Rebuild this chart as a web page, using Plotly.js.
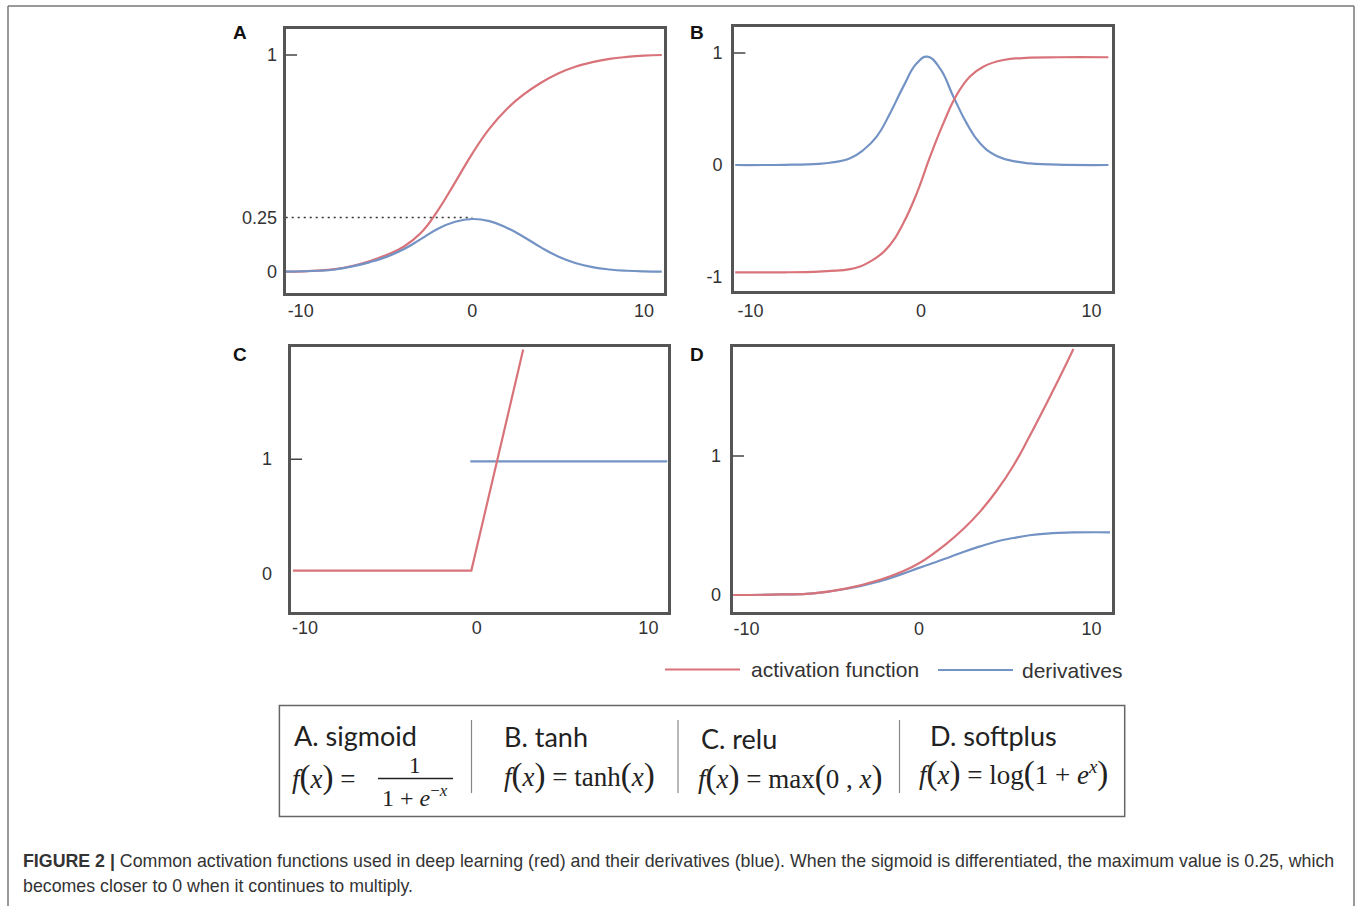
<!DOCTYPE html>
<html><head><meta charset="utf-8">
<script src="https://cdn.plot.ly/plotly-3.0.1.min.js"></script>
<style>html,body{margin:0;padding:0;background:#fff;}#chart{width:1357px;height:906px;}</style>
</head><body><div id="chart"></div>
<script>
// ---------- data ----------
const xTickVals = [-10, 0, 10];
const xTickText = ['-10', '0', '10'];
const yTickValsA = [0, 0.25, 1];
const yTickTextA = ['0', '0.25', '1'];
const yTickValsB = [-1, 0, 1];
const yTickTextB = ['-1', '0', '1'];
const yTickValsC = [0, 1];
const yTickTextC = ['0', '1'];
const yTickValsD = [0, 1];
const yTickTextD = ['0', '1'];

// A. sigmoid
const sigmoidX = [-10.85, -9, -8, -7, -6, -5, -4, -3, -2, -1, 0, 1, 2, 3, 4, 5, 6, 7, 8, 9, 10, 11.04];
const sigmoidY = [0.0, 0.005, 0.012, 0.026, 0.048, 0.077, 0.115, 0.178, 0.283, 0.412, 0.545, 0.66, 0.75, 0.818, 0.872, 0.915, 0.946, 0.967, 0.982, 0.991, 0.997, 1.0];
const sigmoidDerivX = [-10.85, -9, -8, -7, -6, -5, -4, -3, -2, -1, 0, 1, 2, 3, 4, 5, 6, 7, 8, 9, 10, 11.04];
const sigmoidDerivY = [0.0, 0.004, 0.01, 0.024, 0.043, 0.068, 0.103, 0.15, 0.198, 0.23, 0.243, 0.233, 0.203, 0.16, 0.112, 0.07, 0.04, 0.021, 0.01, 0.004, 0.001, 0.0];
const sigmoidMaxDeriv = {x: 0, y: 0.25};

// B. tanh
const tanhX = [-10.9, -8, -6, -5.34, -4.16, -2.99, -1.82, -1.04, -0.25, 0.53, 1.31, 2.09, 2.87, 3.65, 4.83, 6.39, 8, 10.99];
const tanhY = [-0.958, -0.958, -0.952, -0.945, -0.93, -0.863, -0.714, -0.52, -0.253, 0.074, 0.372, 0.625, 0.79, 0.878, 0.9375, 0.958, 0.962, 0.962];
const tanhDerivX = [-10.9, -8, -6, -5.34, -4.16, -3.38, -2.6, -1.82, -1.04, -0.25, 0.37, 1.11, 1.9, 2.68, 3.46, 4.44, 5.61, 6.39, 8, 10.99];
const tanhDerivY = [0, 0.002, 0.01, 0.02, 0.06, 0.134, 0.253, 0.46, 0.70, 0.908, 0.967, 0.863, 0.61, 0.372, 0.194, 0.08, 0.03, 0.015, 0.003, 0];

// C. relu
const reluX = [-10.7, -0.31, 2.71];
const reluY = [0.023, 0.023, 1.96];
const reluDerivX = [-0.37, 11.1];
const reluDerivY = [0.98, 0.98];

// D. softplus
const softplusX = [-10.77, -8, -6.13, -4.19, -2.26, -1, 0, 1.6, 2.57, 3.54, 4.5, 5.47, 6.4, 7.4, 8.37, 8.95];
const softplusY = [0, 0.004, 0.012, 0.048, 0.11, 0.168, 0.228, 0.37, 0.475, 0.6, 0.75, 0.93, 1.14, 1.38, 1.62, 1.77];
const softplusDerivX = [-10.77, -8, -6.13, -4.19, -2.26, -1, 0, 1.6, 2.57, 3.54, 4.5, 5.47, 6.4, 7.4, 8.95, 11.07];
const softplusDerivY = [0, 0.004, 0.012, 0.045, 0.1, 0.15, 0.195, 0.265, 0.31, 0.35, 0.385, 0.41, 0.43, 0.442, 0.45, 0.451];

const panelLetters = ['A', 'B', 'C', 'D'];
const legendNames = ['activation function', 'derivatives'];
const formulaTitles = ['A. sigmoid', 'B. tanh', 'C. relu', 'D. softplus'];
const captionLine1 = '<b>FIGURE 2 |</b> Common activation functions used in deep learning (red) and their derivatives (blue). When the sigmoid is differentiated, the maximum value is 0.25, which';
const captionLine2 = 'becomes closer to 0 when it continues to multiply.';

// ---------- layout helpers ----------
const W = 1357, H = 906;
const px = p => p / W;
const py = p => 1 - p / H;
const RED = '#d9737a';
const BLUE = '#7393c4';
const SANS = 'Liberation Sans, Arial, sans-serif';
const SERIF = 'Liberation Serif, Times New Roman, serif';

function curve(x, y, color, xa, ya, name, shape) {
  return {x: x, y: y, xaxis: xa, yaxis: ya, type: 'scatter', mode: 'lines', name: name,
    showlegend: false, hoverinfo: 'skip',
    line: {color: color, width: 2.2, shape: shape || 'spline', smoothing: 1.3}};
}

const data = [
  curve(sigmoidX, sigmoidY, RED, 'x', 'y', legendNames[0]),
  curve(sigmoidDerivX, sigmoidDerivY, BLUE, 'x', 'y', legendNames[1]),
  curve(tanhDerivX, tanhDerivY, BLUE, 'x2', 'y2', legendNames[1]),
  curve(tanhX, tanhY, RED, 'x2', 'y2', legendNames[0]),
  curve(reluDerivX, reluDerivY, BLUE, 'x3', 'y3', legendNames[1], 'linear'),
  curve(reluX, reluY, RED, 'x3', 'y3', legendNames[0], 'linear'),
  curve(softplusDerivX, softplusDerivY, BLUE, 'x4', 'y4', legendNames[1]),
  curve(softplusX, softplusY, RED, 'x4', 'y4', legendNames[0])
];

function axis(domain, range, vals, text, extra) {
  return Object.assign({
    domain: domain, range: range, tickmode: 'array', tickvals: vals, ticktext: text,
    showgrid: false, zeroline: false, showline: true, mirror: true,
    linecolor: '#555', linewidth: 3, ticks: '', fixedrange: true,
    tickfont: {family: SANS, size: 18, color: '#333'}
  }, extra || {});
}

const rangeA = {x: [-10.87, 11.17], y: [-0.1, 1.12]};
const rangeB = {x: [-10.97, 11.22], y: [-1.125, 1.235]};
const rangeC = {x: [-10.83, 11.16], y: [-0.337, 1.98]};
const rangeD = {x: [-10.8, 11.17], y: [-0.12, 1.786]};

const layout = {
  width: W, height: H, margin: {l: 0, r: 0, t: 0, b: 0},
  paper_bgcolor: '#fff', plot_bgcolor: '#fff', showlegend: false,
  xaxis:  axis([px(285.7), px(664)], rangeA.x, xTickVals, xTickText, {anchor: 'y', ticklabelstandoff: -1}),
  yaxis:  axis([py(293.3), py(29)], rangeA.y, yTickValsA, yTickTextA, {anchor: 'x', ticklabelstandoff: 2}),
  xaxis2: axis([px(734), px(1112.3)], rangeB.x, xTickVals, xTickText, {anchor: 'y2', ticklabelstandoff: 1}),
  yaxis2: axis([py(291), py(26.7)], rangeB.y, yTickValsB, yTickTextB, {anchor: 'x2', ticklabelstandoff: 5}),
  xaxis3: axis([px(290.7), px(668.3)], rangeC.x, xTickVals, xTickText, {anchor: 'y3', ticklabelstandoff: -2}),
  yaxis3: axis([py(611.7), py(347.3)], rangeC.y, yTickValsC, yTickTextC, {anchor: 'x3', ticklabelstandoff: 12}),
  xaxis4: axis([px(732.7), px(1111.7)], rangeD.x, xTickVals, xTickText, {anchor: 'y4', ticklabelstandoff: -1}),
  yaxis4: axis([py(611.7), py(346.7)], rangeD.y, yTickValsD, yTickTextD, {anchor: 'x4', ticklabelstandoff: 5}),
  shapes: [],
  annotations: []
};

// small "1" tick marks inside each frame
[['x domain', 'y'], ['x2 domain', 'y2'], ['x3 domain', 'y3'], ['x4 domain', 'y4']].forEach(r => {
  layout.shapes.push({type: 'line', xref: r[0], yref: r[1], x0: 0, x1: 0.03, y0: 1, y1: 1,
    line: {color: '#444', width: 1.5}});
});
// dotted guide at the sigmoid-derivative maximum
layout.shapes.push({type: 'line', xref: 'x', yref: 'y', x0: rangeA.x[0], x1: sigmoidMaxDeriv.x,
  y0: sigmoidMaxDeriv.y, y1: sigmoidMaxDeriv.y, line: {color: '#333', width: 1.6, dash: '2px,4px'}});

function pline(x0, y0, x1, y1, color, width) {
  layout.shapes.push({type: 'line', xref: 'paper', yref: 'paper', x0: px(x0), y0: py(y0), x1: px(x1), y1: py(y1),
    line: {color: color, width: width}});
}
// outer frame
pline(8, 6, 1354, 6, '#777', 1.5);
pline(8, 6, 8, 906, '#777', 1.5);
pline(1354, 6, 1354, 906, '#777', 1.5);
// legend lines
pline(665, 669.5, 740, 669.5, RED, 2);
pline(938, 670, 1013, 670, BLUE, 2);
// formula box
layout.shapes.push({type: 'rect', xref: 'paper', yref: 'paper', x0: px(279.4), x1: px(1124.7), y0: py(816.5), y1: py(705.5),
  line: {color: '#666', width: 1.5}, fillcolor: 'rgba(0,0,0,0)'});
[471.5, 678, 899.5].forEach(x => pline(x, 720, x, 793, '#888', 1.2));
// fraction bar
pline(378, 778.5, 453, 778.5, '#222', 1.3);

function ann(text, x, y, font, xanchor) {
  layout.annotations.push({text: text, xref: 'paper', yref: 'paper', x: px(x), y: py(y),
    xanchor: xanchor || 'left', yanchor: 'middle', showarrow: false, font: font});
}
// panel letters
const letterFont = {family: SANS, size: 19, color: '#111'};
[[240, 33], [697, 33], [240, 354], [697, 354]].forEach((p, i) => ann('<b>' + panelLetters[i] + '</b>', p[0], p[1], letterFont, 'center'));
// legend texts
const legFont = {family: SANS, size: 21, color: '#333'};
ann(legendNames[0], 749, 669, legFont);
ann(legendNames[1], 1020, 670, legFont);
// formula titles
const titleFont = {family: 'Lato, Open Sans, sans-serif', size: 27, color: '#222'};
ann(formulaTitles[0], 292, 735, titleFont);
ann(formulaTitles[1], 502, 736, titleFont);
ann(formulaTitles[2], 699, 738, titleFont);
ann(formulaTitles[3], 928, 735, titleFont);
// formulas
const mathFont = {family: SERIF, size: 27, color: '#222'};
const L = '<span style="font-size:33px">(</span>';
const R = '<span style="font-size:33px">)</span>';
ann('<i>f</i>' + L + '<i>x</i>' + R + ' =', 290, 777, mathFont);
ann('1', 415, 765, {family: SERIF, size: 23, color: '#222'}, 'center');
ann('1 + <i>e</i><sup>−<i>x</i></sup>', 415, 796, {family: SERIF, size: 24, color: '#222'}, 'center');
ann('<i>f</i>' + L + '<i>x</i>' + R + ' = tanh' + L + '<i>x</i>' + R, 502, 775, mathFont);
ann('<i>f</i>' + L + '<i>x</i>' + R + ' = max' + L + '0 , <i>x</i>' + R, 696, 777, mathFont);
ann('<i>f</i>' + L + '<i>x</i>' + R + ' = log' + L + '1 + <i>e</i><sup><i>x</i></sup>' + R, 917, 773, mathFont);
// caption
const capFont = {family: SANS, size: 17.8, color: '#333'};
ann(captionLine1, 21, 861, capFont);
ann(captionLine2, 21, 886, capFont);

Plotly.newPlot('chart', data, layout, {staticPlot: true, displayModeBar: false});
</script>
</body></html>
